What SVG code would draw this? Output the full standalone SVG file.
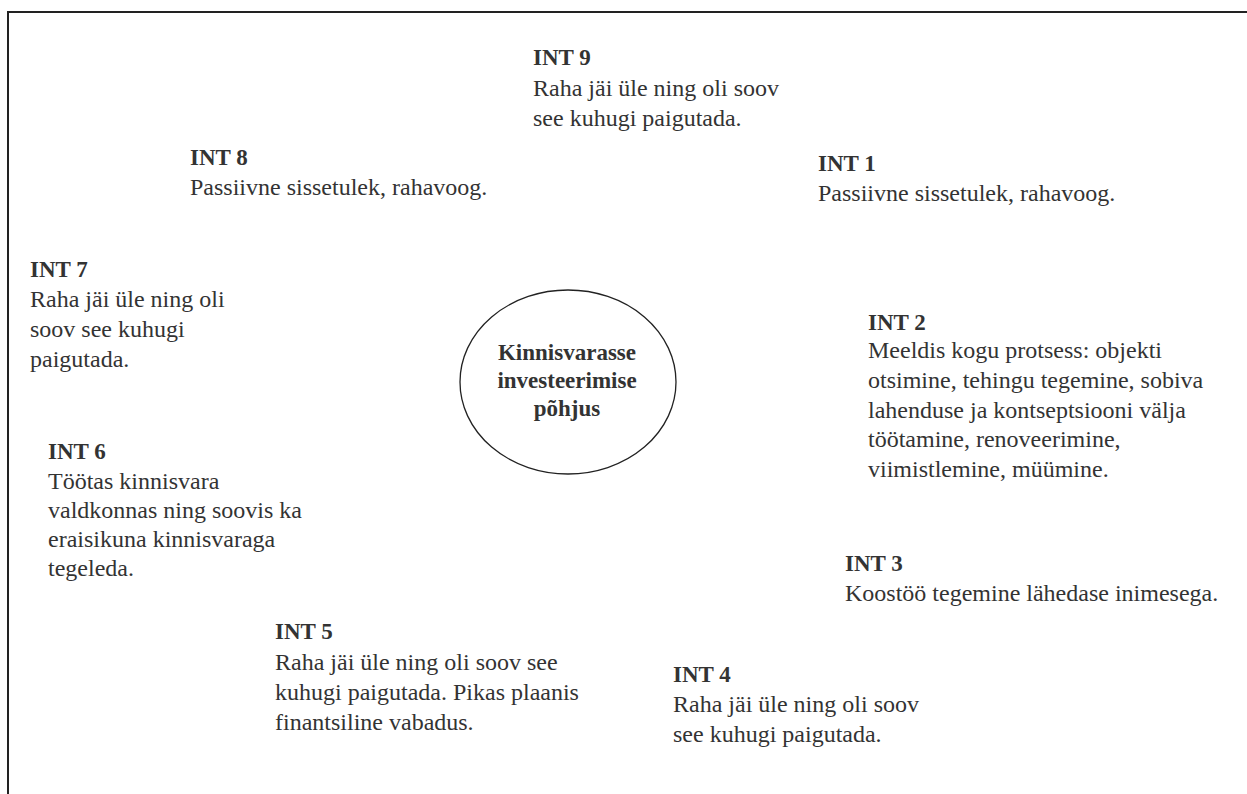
<svg xmlns="http://www.w3.org/2000/svg" width="1247" height="794" viewBox="0 0 1247 794">
<style>
text{font-family:"Liberation Serif","Times New Roman",serif;font-size:24px;fill:#333}
.h{font-weight:bold;font-size:23px}
.c{font-weight:bold;font-size:23px;text-anchor:middle}
</style>
<rect width="1247" height="794" fill="#fff"/>
<path d="M8,794 V12 H1247" fill="none" stroke="#222" stroke-width="2"/>
<g id="center">
<ellipse cx="568" cy="382" rx="108" ry="92" fill="none" stroke="#222" stroke-width="1.3"/>
<text class="c" x="567" y="360">Kinnisvarasse</text>
<text class="c" x="567" y="388">investeerimise</text>
<text class="c" x="567" y="416">põhjus</text>
</g>
<g id="connectors"></g>
<g id="int9">
<text class="h" x="533" y="65">INT 9</text>
<text x="533" y="96">Raha jäi üle ning oli soov</text>
<text x="533" y="126">see kuhugi paigutada.</text>
</g>
<g id="int8">
<text class="h" x="190" y="165">INT 8</text>
<text x="190" y="195">Passiivne sissetulek, rahavoog.</text>
</g>
<g id="int1">
<text class="h" x="818" y="171">INT 1</text>
<text x="818" y="201">Passiivne sissetulek, rahavoog.</text>
</g>
<g id="int7">
<text class="h" x="30" y="277">INT 7</text>
<text x="30" y="307">Raha jäi üle ning oli</text>
<text x="30" y="337">soov see kuhugi</text>
<text x="30" y="367">paigutada.</text>
</g>
<g id="int2">
<text class="h" x="868" y="330">INT 2</text>
<text x="868" y="358">Meeldis kogu protsess: objekti</text>
<text x="868" y="388">otsimine, tehingu tegemine, sobiva</text>
<text x="868" y="418">lahenduse ja kontseptsiooni välja</text>
<text x="868" y="447">töötamine, renoveerimine,</text>
<text x="868" y="477">viimistlemine, müümine.</text>
</g>
<g id="int6">
<text class="h" x="48" y="459">INT 6</text>
<text x="48" y="489">Töötas kinnisvara</text>
<text x="48" y="518">valdkonnas ning soovis ka</text>
<text x="48" y="547">eraisikuna kinnisvaraga</text>
<text x="48" y="576">tegeleda.</text>
</g>
<g id="int3">
<text class="h" x="845" y="571">INT 3</text>
<text x="845" y="601">Koostöö tegemine lähedase inimesega.</text>
</g>
<g id="int5">
<text class="h" x="275" y="639">INT 5</text>
<text x="275" y="670">Raha jäi üle ning oli soov see</text>
<text x="275" y="700">kuhugi paigutada. Pikas plaanis</text>
<text x="275" y="730">finantsiline vabadus.</text>
</g>
<g id="int4">
<text class="h" x="673" y="682">INT 4</text>
<text x="673" y="712">Raha jäi üle ning oli soov</text>
<text x="673" y="742">see kuhugi paigutada.</text>
</g>
</svg>
